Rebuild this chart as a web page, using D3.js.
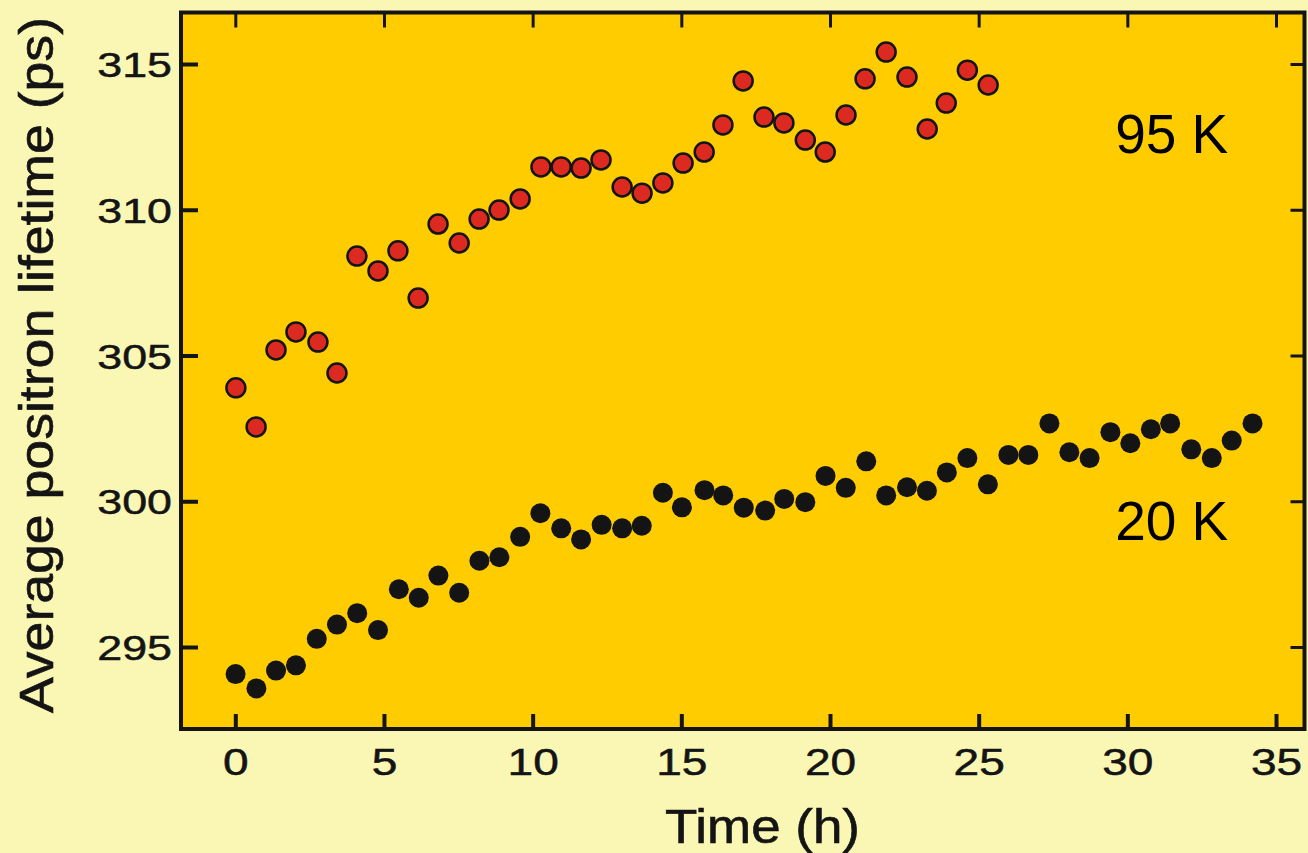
<!DOCTYPE html>
<html>
<head>
<meta charset="utf-8">
<script src="https://cdn.jsdelivr.net/npm/d3@7"></script>
<style>
  html, body { margin: 0; padding: 0; background: #faf7b5; }
  svg { display: block; }
</style>
</head>
<body>
<svg id="chart"></svg>
<script>
// Time (h) and lifetime (ps)
const time95 = [0.02, 0.70, 1.37, 2.04, 2.78, 3.42, 4.09, 4.80, 5.47, 6.15, 6.82, 7.53, 8.20, 8.87, 9.58,
  10.28, 10.96, 11.63, 12.30, 13.01, 13.68, 14.38, 15.06, 15.77, 16.40, 17.08, 17.78, 18.45, 19.17,
  19.84, 20.54, 21.18, 21.89, 22.59, 23.27, 23.91, 24.62, 25.32];
const tau95 = [303.89, 302.55, 305.19, 305.81, 305.46, 304.40, 308.41, 307.90, 308.59, 306.97, 309.51,
  308.86, 309.68, 309.99, 310.37, 311.47, 311.47, 311.43, 311.71, 310.78, 310.57, 310.92, 311.60,
  311.98, 312.91, 314.42, 313.18, 312.98, 312.39, 311.98, 313.25, 314.49, 315.41, 314.55, 312.77,
  313.66, 314.79, 314.28];

const time20 = [0.01, 0.71, 1.37, 2.04, 2.74, 3.42, 4.10, 4.80, 5.50, 6.17, 6.83, 7.53, 8.21, 8.88, 9.58,
  10.26, 10.96, 11.63, 12.32, 13.01, 13.67, 14.38, 15.02, 15.78, 16.41, 17.10, 17.82, 18.46, 19.17,
  19.85, 20.53, 21.22, 21.89, 22.59, 23.26, 23.93, 24.62, 25.31, 26.00, 26.67, 27.38, 28.05, 28.73,
  29.43, 30.10, 30.79, 31.44, 32.15, 32.84, 33.51, 34.21];
const tau20 = [294.07, 293.58, 294.19, 294.37, 295.28, 295.77, 296.16, 295.58, 296.98, 296.69, 297.45,
  296.86, 297.96, 298.08, 298.78, 299.59, 299.07, 298.69, 299.19, 299.07, 299.16, 300.29, 299.79,
  300.38, 300.20, 299.78, 299.68, 300.08, 299.97, 300.87, 300.46, 301.37, 300.20, 300.48, 300.36,
  300.99, 301.48, 300.58, 301.59, 301.59, 302.67, 301.68, 301.48, 302.37, 301.99, 302.47, 302.67,
  301.78, 301.48, 302.08, 302.67];

const xTicks = [0, 5, 10, 15, 20, 25, 30, 35];
const yTicks = [295, 300, 305, 310, 315];
const seriesLabels = ['95 K', '20 K'];
const labelTime = [29.59, 29.59];
const labelTau = [311.95, 298.67];

const width = 1308;
const height = 853;
const box = { left: 181, top: 12.5, right: 1304.5, bottom: 729 };
const ink = '#141414';

const svg = d3.select('#chart')
  .attr('width', width)
  .attr('height', height);

svg.append('rect')
  .attr('width', width)
  .attr('height', height)
  .attr('fill', '#faf7b5');

const x = d3.scaleLinear().domain([-1.826, 35.958]).range([box.left, box.right]);
const y = d3.scaleLinear().domain([292.187, 316.767]).range([box.bottom, box.top]);

// plot area
svg.append('rect')
  .attr('x', box.left)
  .attr('y', box.top)
  .attr('width', box.right - box.left)
  .attr('height', box.bottom - box.top)
  .attr('fill', '#ffcc00');

// axes, ticks pointing inward
function styleAxis(sel, w) {
  sel.select('.domain').remove();
  sel.selectAll('.tick line').attr('stroke', ink).attr('stroke-width', w);
}

const xAxis = svg.append('g')
  .attr('transform', `translate(0,${box.bottom})`)
  .call(d3.axisBottom(x).tickValues(xTicks).tickSizeInner(-15).tickSizeOuter(0));
styleAxis(xAxis, 4);
xAxis.selectAll('.tick text')
  .attr('y', 46)
  .attr('dy', 0)
  .attr('transform', 'scale(1.28,1)')
  .attr('fill', ink)
  .attr('stroke', ink)
  .attr('stroke-width', 0.5)
  .style('font-family', 'Liberation Sans, Arial, sans-serif')
  .style('font-size', '36px');

const xTop = svg.append('g')
  .attr('transform', `translate(0,${box.top})`)
  .call(d3.axisTop(x).tickValues(xTicks).tickSizeInner(-15).tickSizeOuter(0).tickFormat(''));
styleAxis(xTop, 3);

const yAxis = svg.append('g')
  .attr('transform', `translate(${box.left},0)`)
  .call(d3.axisLeft(y).tickValues(yTicks).tickSizeInner(-17).tickSizeOuter(0));
styleAxis(yAxis, 4);
yAxis.selectAll('.tick text')
  .attr('x', -9 / 1.28)
  .attr('dy', '0.36em')
  .attr('transform', 'scale(1.28,1)')
  .attr('fill', ink)
  .attr('stroke', ink)
  .attr('stroke-width', 0.5)
  .style('font-family', 'Liberation Sans, Arial, sans-serif')
  .style('font-size', '35px');

const yRight = svg.append('g')
  .attr('transform', `translate(${box.right},0)`)
  .call(d3.axisRight(y).tickValues(yTicks).tickSizeInner(-14).tickSizeOuter(0).tickFormat(''));
styleAxis(yRight, 3);

// frame
svg.append('rect')
  .attr('x', box.left)
  .attr('y', box.top)
  .attr('width', box.right - box.left)
  .attr('height', box.bottom - box.top)
  .attr('fill', 'none')
  .attr('stroke', ink)
  .attr('stroke-width', 4);

// axis titles
svg.append('text')
  .attr('x', 665)
  .attr('y', 843)
  .attr('textLength', 195)
  .attr('lengthAdjust', 'spacingAndGlyphs')
  .attr('fill', ink)
  .attr('stroke', ink)
  .attr('stroke-width', 0.6)
  .style('font-family', 'Liberation Sans, Arial, sans-serif')
  .style('font-size', '48px')
  .text('Time (h)');

svg.append('text')
  .attr('transform', 'rotate(-90)')
  .attr('x', -713)
  .attr('y', 53)
  .attr('textLength', 696)
  .attr('lengthAdjust', 'spacingAndGlyphs')
  .attr('fill', ink)
  .attr('stroke', ink)
  .attr('stroke-width', 0.6)
  .style('font-family', 'Liberation Sans, Arial, sans-serif')
  .style('font-size', '48px')
  .text('Average positron lifetime (ps)');

// data points
const pts20 = time20.map((t, i) => ({ t, v: tau20[i] }));
const pts95 = time95.map((t, i) => ({ t, v: tau95[i] }));

svg.append('g')
  .selectAll('circle')
  .data(pts20)
  .join('circle')
  .attr('cx', d => x(d.t))
  .attr('cy', d => y(d.v))
  .attr('r', 10)
  .attr('fill', ink);

svg.append('g')
  .selectAll('circle')
  .data(pts95)
  .join('circle')
  .attr('cx', d => x(d.t))
  .attr('cy', d => y(d.v))
  .attr('r', 9.5)
  .attr('fill', '#dc2a20')
  .attr('stroke', ink)
  .attr('stroke-width', 2.5);

// series labels
svg.append('g')
  .selectAll('text')
  .data(seriesLabels)
  .join('text')
  .attr('x', (d, i) => x(labelTime[i]))
  .attr('y', (d, i) => y(labelTau[i]))
  .attr('fill', '#000')
  .style('font-family', 'Liberation Sans, Arial, sans-serif')
  .style('font-size', '55px')
  .text(d => d);
</script>
</body>
</html>
